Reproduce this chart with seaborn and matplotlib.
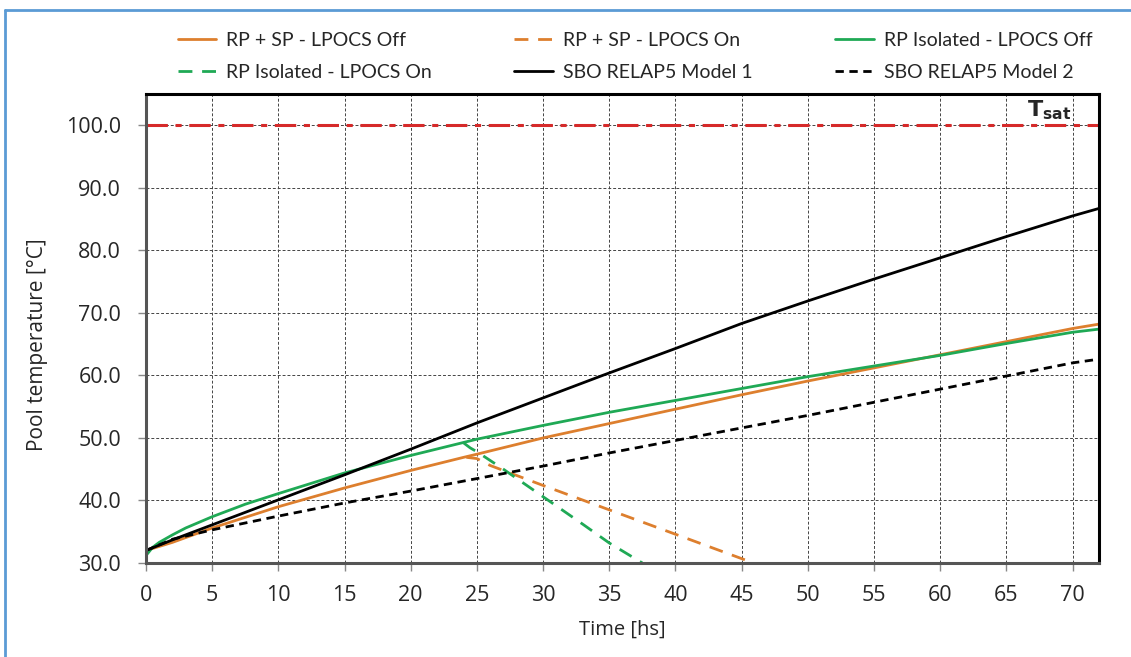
import matplotlib
matplotlib.use("Agg")
import matplotlib.pyplot as plt
import matplotlib.lines as mlines
import pandas as pd
import seaborn as sns

# --- data ---
t_rp_sp_off = [0, 2, 5, 10, 15, 20, 24, 25, 30, 35, 40, 45, 50, 55, 60, 65, 70, 72]
rp_sp_off = [32.0, 33.3, 35.6, 39.0, 42.0, 44.8, 46.9, 47.4, 50.0, 52.3, 54.6, 56.9, 59.1, 61.2, 63.3, 65.4, 67.5, 68.2]

t_rp_sp_on = [24.2, 25, 26, 30, 35, 40, 45.9]
rp_sp_on = [46.9, 46.7, 45.6, 42.4, 38.5, 34.6, 30.0]

t_rp_iso_off = [0, 0.5, 1, 2, 3, 5, 7.5, 10, 15, 20, 25, 30, 35, 40, 45, 50, 55, 60, 65, 70, 72]
rp_iso_off = [31.2, 32.5, 33.3, 34.5, 35.6, 37.4, 39.4, 41.1, 44.4, 47.2, 49.8, 52.0, 54.1, 56.0, 57.9, 59.8, 61.5, 63.2, 65.1, 66.9, 67.4]

t_rp_iso_on = [24.0, 24.5, 25, 27, 30, 33, 35, 37.5]
rp_iso_on = [49.2, 48.4, 47.8, 45.0, 40.6, 36.2, 33.2, 30.0]

t_sbo1 = [0, 2, 5, 10, 15, 20, 25, 30, 34.5, 40, 45, 50, 55, 60, 65, 70, 72]
sbo1 = [32.0, 33.7, 36.1, 40.1, 44.1, 48.2, 52.4, 56.4, 60.0, 64.3, 68.3, 71.9, 75.4, 78.8, 82.2, 85.5, 86.7]

t_sbo2 = [0, 2, 5, 10, 15, 20, 25, 30, 35, 40, 45, 50, 55, 60, 65, 70, 72]
sbo2 = [32.0, 33.8, 35.3, 37.5, 39.6, 41.5, 43.5, 45.5, 47.6, 49.6, 51.6, 53.6, 55.7, 57.8, 59.9, 62.0, 62.6]

t_sat = 100.0

ORANGE = "#DD7F2E"
GREEN = "#1FA955"
RED = "#D62A2A"

series = [
    ("RP + SP - LPOCS Off", t_rp_sp_off, rp_sp_off, ORANGE, "-"),
    ("RP + SP - LPOCS On", t_rp_sp_on, rp_sp_on, ORANGE, (0, (5, 3.5))),
    ("RP Isolated - LPOCS Off", t_rp_iso_off, rp_iso_off, GREEN, "-"),
    ("RP Isolated - LPOCS On", t_rp_iso_on, rp_iso_on, GREEN, (0, (5, 3.5))),
    ("SBO RELAP5 Model 1", t_sbo1, sbo1, "black", "-"),
    ("SBO RELAP5 Model 2", t_sbo2, sbo2, "black", (0, (3, 2))),
]

sns.set_style("white")
plt.rcParams["font.family"] = ["Open Sans", "DejaVu Sans"]

fig = plt.figure(figsize=(11.31, 6.57), dpi=100)
ax = fig.add_axes([146 / 1131, 1 - 563 / 657, (1099 - 146) / 1131, (563 - 94) / 657])

handles = []
for name, t, v, color, ls in series:
    df = pd.DataFrame({"t": t, "v": v})
    sns.lineplot(data=df, x="t", y="v", ax=ax, color=color, linewidth=2.0,
                 linestyle=ls, sort=False, estimator=None)
    handles.append(mlines.Line2D([], [], color=color, linestyle=ls, linewidth=2.0, label=name))

ax.axhline(t_sat, color=RED, linestyle=(0, (7, 2.5, 2, 2.5)), linewidth=2.2, zorder=1)
ax.text(68.2, 102.4, r"$\mathbf{T_{sat}}$", ha="center", va="center", fontsize=16)

ax.set_xlim(0, 72)
ax.set_ylim(30, 105)
ax.set_xticks(range(0, 71, 5))
ax.set_yticks(range(30, 101, 10))
ax.set_yticklabels([f"{y:.1f}" for y in range(30, 101, 10)])
ax.grid(True, color="#444444", linestyle=(0, (3, 2)), linewidth=0.7)
ax.set_axisbelow(True)
ax.tick_params(axis="both", labelsize=15.5, direction="out", length=6, width=1,
               color="#888888", bottom=True, left=True)
ax.tick_params(axis="y", pad=12)
ax.tick_params(axis="x", pad=10)

for side in ["top", "right"]:
    ax.spines[side].set_color("black")
    ax.spines[side].set_linewidth(2.2)
for side in ["left", "bottom"]:
    ax.spines[side].set_color("#555555")
    ax.spines[side].set_linewidth(2.2)

ax.set_xlabel("Time [hs]", fontsize=14.5)
ax.set_ylabel("Pool temperature [°C]", fontsize=15)
ax.xaxis.set_label_coords(0.5, -0.12)
ax.yaxis.set_label_coords(-0.103, 0.465)

# legend is row-major in the reference, matplotlib fills by column
order = [0, 3, 1, 4, 2, 5]
fig.legend([handles[i] for i in order], [handles[i].get_label() for i in order],
           loc="lower left", ncol=3, mode="expand", frameon=False,
           bbox_to_anchor=(160 / 1131, 1 - 98 / 657, 950 / 1131, 64 / 657),
           handlelength=2.0, handletextpad=0.5, labelspacing=0.75,
           prop={"family": ["Lato", "DejaVu Sans"], "size": 14})

# light blue frame of the screenshot
frame_c = "#5B9BD5"
fig.add_artist(mlines.Line2D([5 / 1131, 5 / 1131], [0, 1 - 10 / 657], color=frame_c, linewidth=2,
                             transform=fig.transFigure))
fig.add_artist(mlines.Line2D([5 / 1131, 1], [1 - 10 / 657, 1 - 10 / 657], color=frame_c, linewidth=2,
                             transform=fig.transFigure))

fig.savefig("out.png", dpi=100)
